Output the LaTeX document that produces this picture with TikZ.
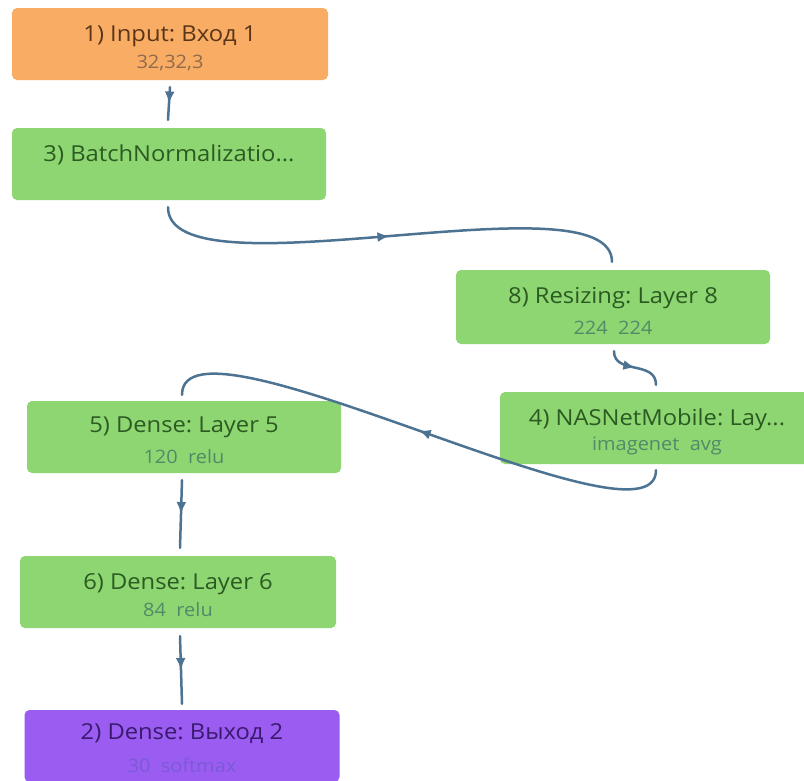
\documentclass[tikz,border=0pt]{standalone}
\usepackage{fontspec}
\setmainfont{Open Sans}
\newfontfamily\boxfont[FakeStretch=1.08]{Open Sans}
\usetikzlibrary{arrows.meta,decorations.markings}
\definecolor{orangefill}{HTML}{F9AD64}
\definecolor{greenfill}{HTML}{8ED672}
\definecolor{purplefill}{HTML}{9B5CF2}
\definecolor{conncol}{HTML}{4D7392}
\definecolor{orangetitle}{HTML}{5A3518}
\definecolor{orangesub}{HTML}{8F6A4C}
\definecolor{greentitle}{HTML}{2B5A22}
\definecolor{greensub}{HTML}{528A68}
\definecolor{purpletitle}{HTML}{3A1A6E}
\definecolor{purplesub}{HTML}{7B5AD6}
\tikzset{
  layerbox/.style={rounded corners=5pt, minimum width=314pt, minimum height=72pt, inner sep=0pt},
  orangebox/.style={layerbox, fill=orangefill},
  greenbox/.style={layerbox, fill=greenfill},
  purplebox/.style={layerbox, fill=purplefill},
  titletext/.style={font=\boxfont\frenchspacing\fontsize{22}{24}\selectfont, inner sep=0pt, anchor=base},
  subtext/.style={font=\boxfont\fontsize{18.5}{20}\selectfont, inner sep=0pt, anchor=base},
  conn/.style={draw=conncol, line width=2.5pt, line cap=round,
    postaction={decorate},
    decoration={markings, mark=at position 0.5 with {\arrow{Latex[length=12pt,width=10pt]}}}}
}
\begin{document}
\begin{tikzpicture}[x=1pt,y=-1pt]
\fill[white] (0,0) rectangle (804,780);
\useasboundingbox (0,0) rectangle (804,780);

% boxes
\node[orangebox, minimum width=316pt] (n1) at (170,44) {};
\node[greenbox] (n3) at (169,164) {};
\node[greenbox, minimum height=74pt] (n8) at (613,307) {};
\node[greenbox] (n4) at (657,428) {};
\node[greenbox] (n5) at (184,437) {};
\node[greenbox, minimum width=316pt] (n6) at (178,592) {};
\node[purplebox, minimum width=315pt] (n2) at (182,746) {};

% texts
\node[titletext, text=orangetitle] (t1) at (170,41) {1) Input: Вход 1};
\node[subtext, text=orangesub] (s1) at (170,68) {32,32,3};
\node[titletext, text=greentitle] (t3) at (169,161) {3) BatchNormalizatio...};
\node[titletext, text=greentitle] (t8) at (613,303) {8) Resizing: Layer 8};
\node[subtext, text=greensub] (s8) at (613,334) {224\ \ 224};
\node[titletext, text=greentitle] (t4) at (657,425) {4) NASNetMobile: Lay...};
\node[subtext, text=greensub] (s4) at (657,450) {imagenet\ \ avg};
\node[titletext, text=greentitle] (t5) at (184,432) {5) Dense: Layer 5};
\node[subtext, text=greensub] (s5) at (184,463) {120\ \ relu};
\node[titletext, text=greentitle] (t6) at (178,589) {6) Dense: Layer 6};
\node[subtext, text=greensub] (s6) at (178,616) {84\ \ relu};
\node[titletext, text=purpletitle] (t2) at (182,739) {2) Dense: Выход 2};
\node[subtext, text=purplesub] (s2) at (182,772) {30\ \ softmax};

% connectors
\path[conn] ([yshift=-7pt]n1.south) -- ([xshift=-1pt,yshift=8pt]n3.north);
\path[conn] ([xshift=-1pt,yshift=-7pt]n3.south) .. controls (168,300) and (612,173) .. ([xshift=-1pt,yshift=8pt]n8.north);
\path[conn] ([xshift=1pt,yshift=-7pt]n8.south) .. controls (614,375) and (656,360) .. ([xshift=-1pt,yshift=7pt]n4.north);
\path[conn] ([xshift=-1pt,yshift=-6pt]n4.south) .. controls (656,560) and (182,300) .. ([xshift=-2pt,yshift=6pt]n5.north);
\path[conn] ([xshift=-2pt,yshift=-7pt]n5.south) -- ([xshift=2pt,yshift=8pt]n6.north);
\path[conn] ([xshift=2pt,yshift=-8pt]n6.south) -- ([yshift=6pt]n2.north);
\end{tikzpicture}
\end{document}
